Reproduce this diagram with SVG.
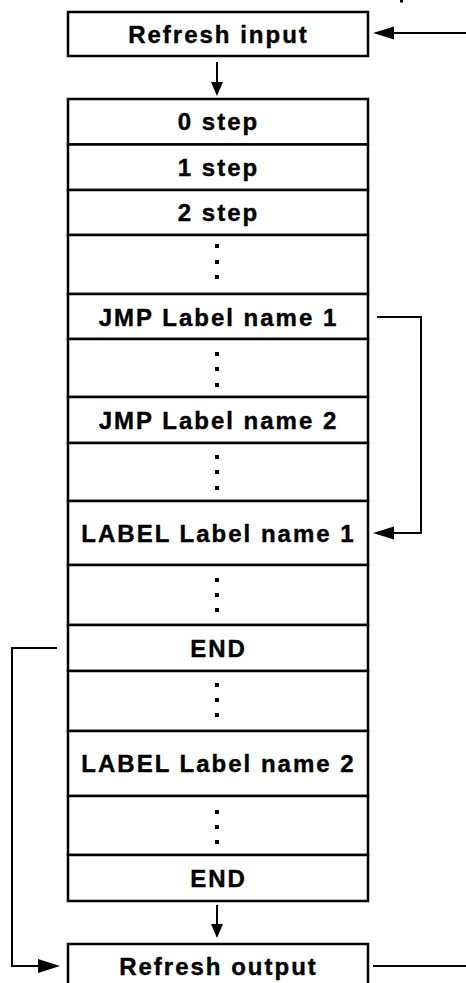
<svg xmlns="http://www.w3.org/2000/svg" width="466" height="983" viewBox="0 0 466 983">
<style>
.box{fill:#fff;stroke:#000;stroke-width:2.5}
.t{font-family:"Liberation Sans",Arial,sans-serif;font-weight:bold;font-size:24px;letter-spacing:2px;text-anchor:middle;fill:#000;stroke:#000;stroke-width:0.4}
.ln{fill:none;stroke:#000;stroke-width:2}
.hd{fill:#000;stroke:none}
.dot{fill:#000}
</style>
<rect width="466" height="983" fill="#fff"/>
<rect class="dot" x="400" y="0" width="3" height="2.5"/>
<g id="refresh-input"><rect class="box" x="68" y="12" width="300" height="44"/><text class="t" x="218.5" y="43">Refresh input</text></g>
<g id="step0"><rect class="box" x="68" y="99" width="300" height="45.5"/><text class="t" x="218.5" y="130">0 step</text></g>
<g id="step1"><rect class="box" x="68" y="144.5" width="300" height="45.5"/><text class="t" x="218.5" y="176">1 step</text></g>
<g id="step2"><rect class="box" x="68" y="190" width="300" height="45"/><text class="t" x="218.5" y="221">2 step</text></g>
<g id="dots1"><rect class="box" x="68" y="235" width="300" height="59"/><rect class="dot" x="215" y="244" width="4" height="4"/><rect class="dot" x="215" y="260" width="4" height="4"/><rect class="dot" x="215" y="275" width="4" height="4"/></g>
<g id="jmp1"><rect class="box" x="68" y="294" width="300" height="45"/><text class="t" x="218.5" y="325.5">JMP Label name 1</text></g>
<g id="dots2"><rect class="box" x="68" y="339" width="300" height="58"/><rect class="dot" x="215" y="352" width="4" height="4"/><rect class="dot" x="215" y="367" width="4" height="4"/><rect class="dot" x="215" y="383" width="4" height="4"/></g>
<g id="jmp2"><rect class="box" x="68" y="397" width="300" height="46"/><text class="t" x="218.5" y="428.5">JMP Label name 2</text></g>
<g id="dots3"><rect class="box" x="68" y="443" width="300" height="58"/><rect class="dot" x="215" y="455" width="4" height="4"/><rect class="dot" x="215" y="470" width="4" height="4"/><rect class="dot" x="215" y="486" width="4" height="4"/></g>
<g id="label1"><rect class="box" x="68" y="501" width="300" height="64"/><text class="t" x="218.5" y="542">LABEL Label name 1</text></g>
<g id="dots4"><rect class="box" x="68" y="565" width="300" height="60"/><rect class="dot" x="215" y="578" width="4" height="4"/><rect class="dot" x="215" y="593" width="4" height="4"/><rect class="dot" x="215" y="608" width="4" height="4"/></g>
<g id="end1"><rect class="box" x="68" y="625" width="300" height="46"/><text class="t" x="218.5" y="656.5">END</text></g>
<g id="dots5"><rect class="box" x="68" y="671" width="300" height="60"/><rect class="dot" x="215" y="683" width="4" height="4"/><rect class="dot" x="215" y="698" width="4" height="4"/><rect class="dot" x="215" y="713" width="4" height="4"/></g>
<g id="label2"><rect class="box" x="68" y="731" width="300" height="65"/><text class="t" x="218.5" y="772">LABEL Label name 2</text></g>
<g id="dots6"><rect class="box" x="68" y="796" width="300" height="59"/><rect class="dot" x="215" y="810" width="4" height="4"/><rect class="dot" x="215" y="825" width="4" height="4"/><rect class="dot" x="215" y="840" width="4" height="4"/></g>
<g id="end2"><rect class="box" x="68" y="855" width="300" height="46"/><text class="t" x="218.5" y="886.5">END</text></g>
<g id="refresh-output"><rect class="box" x="68" y="944" width="300" height="60"/><text class="t" x="218.5" y="975">Refresh output</text></g>
<g id="connectors">
<path class="ln" d="M466 33H392"/><polygon class="hd" points="394,26.5 394,39.5 373,33"/>
<path class="ln" d="M217 62V85"/><polygon class="hd" points="211,82 223,82 217,96"/>
<path class="ln" d="M377 317H421V533H392"/><polygon class="hd" points="394,526.5 394,539.5 373,533"/>
<path class="ln" d="M57 648H12V966H40"/><polygon class="hd" points="38,959 38,973 60,966"/>
<path class="ln" d="M217 905V927"/><polygon class="hd" points="211,924 223,924 217,938"/>
<path class="ln" d="M373 966H466"/>
</g>
</svg>
